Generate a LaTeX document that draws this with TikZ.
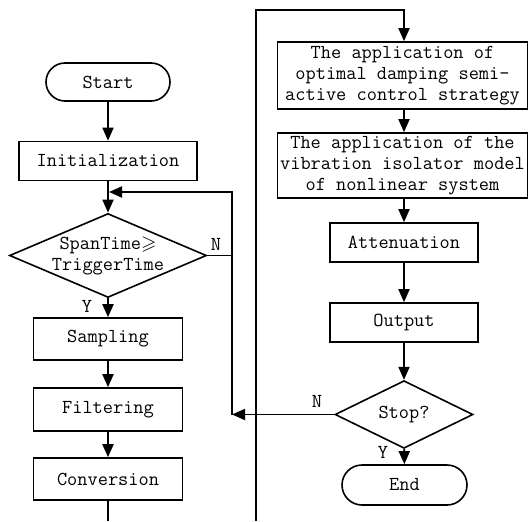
\documentclass[tikz,border=0pt]{standalone}
\usepackage{amssymb}
\usepackage{fontspec}
\usetikzlibrary{arrows.meta,shapes.geometric}
\begin{document}
\begin{tikzpicture}[x=1pt,y=-1pt,
  every node/.style={font=\fontsize{19.8}{21}\selectfont\ttfamily, inner sep=0pt},
  proc/.style={draw, line width=1.6pt, rectangle},
  term/.style={draw, line width=1.6pt, rectangle},
  dec/.style={draw, line width=1.6pt, diamond},
  flow/.style={line width=1.8pt, -{Triangle[length=13pt,width=11pt]}},
  plainline/.style={line width=1.8pt},
  lbl/.style={font=\fontsize{19.8}{20}\selectfont\ttfamily}
]
\useasboundingbox (0,0) rectangle (529,521);

% left column
\node[term, rounded corners=19pt, minimum width=124pt, minimum height=38pt] (start) at (108,82) {Start};
\node[proc, minimum width=178pt, minimum height=39pt] (init) at (108,161) {Initialization};
\node[dec, minimum width=197pt, minimum height=84pt] (d1) at (108,255.5) {};
\node[align=center] (d1t) at (108,256) {SpanTime$\geqslant$\\TriggerTime};
\node[proc, minimum width=149pt, minimum height=42pt] (samp) at (108,339) {Sampling};
\node[proc, minimum width=149pt, minimum height=43pt] (filt) at (108,409.5) {Filtering};
\node[proc, minimum width=149pt, minimum height=42pt] (conv) at (108,479) {Conversion};

% right column
\node[proc, minimum width=250pt, minimum height=67pt, align=center] (b1) at (402.5,75.5) {The application of\\optimal damping semi-\\active control strategy};
\node[proc, minimum width=250pt, minimum height=65pt, align=center] (b2) at (402.5,165.5) {The application of the\\vibration isolator model\\of nonlinear system};
\node[proc, minimum width=148pt, minimum height=39pt] (att) at (404,242.5) {Attenuation};
\node[proc, minimum width=148pt, minimum height=39pt] (out) at (404,322.5) {Output};
\node[dec, minimum width=138pt, minimum height=55pt] (stop) at (404,414.5) {Stop?};
\node[term, rounded corners=20pt, minimum width=125pt, minimum height=40pt] (end) at (404.5,485) {End};

% labels
\node[lbl] (y1) at (87,306) {Y};
\node[lbl] (n1) at (216,244) {N};
\node[lbl] (n2) at (317,401) {N};
\node[lbl] (y2) at (383,452) {Y};

% coordinates
\coordinate (merge) at (108,192);
\coordinate (lpT) at (232,192);
\coordinate (lpB) at (232,414.5);
\coordinate (bl) at (108,521);
\coordinate (bot) at (256,521);
\coordinate (topL) at (256,10);
\coordinate (topR) at (404,10);

% connectors
\draw[flow] (start) -- (init);
\draw[flow] (init) -- (d1);
\draw[flow] (d1) -- (samp);
\draw[flow] (samp) -- (filt);
\draw[flow] (filt) -- (conv);
\draw[plainline] (conv) -- (bl);
\draw[flow] (bot) -- (topL) -- (topR) -- (b1.north -| topR);
\draw[flow] (b1.south -| att.north) -- (b2.north -| att.north);
\draw[flow] (b2.south -| att.north) -- (att);
\draw[flow] (att) -- (out);
\draw[flow] (out) -- (stop);
\draw[flow] (stop) -- (end);
\draw[flow] (stop.west) -- (lpB);
\draw[flow, shorten >=1pt] (lpB) -- (lpT) -- (merge);
\draw[plainline] (d1.east) -- (d1.east -| lpB);
\end{tikzpicture}
\end{document}
